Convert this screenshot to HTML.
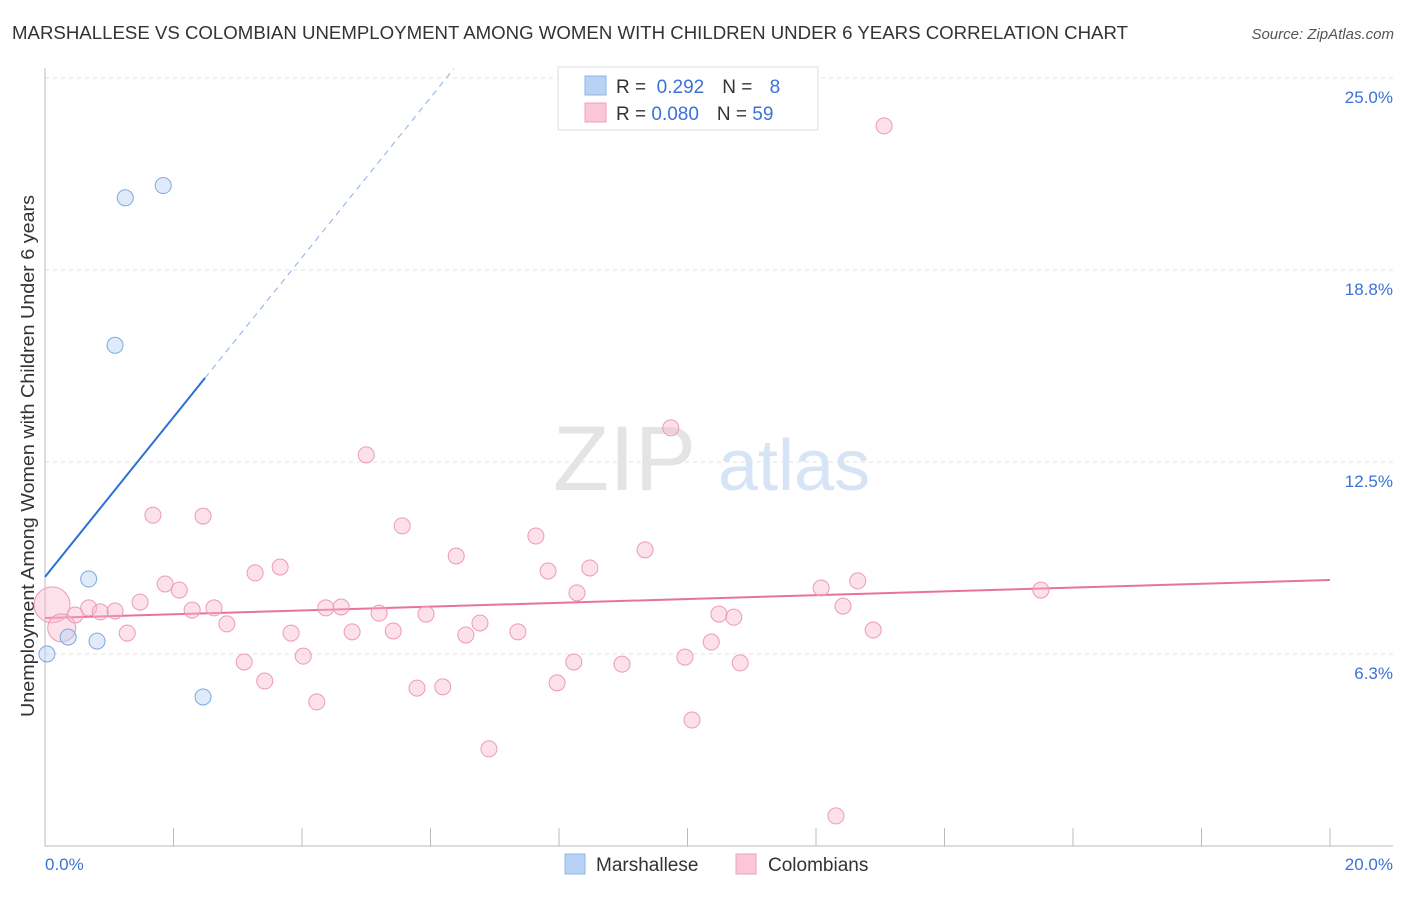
<!DOCTYPE html>
<html><head><meta charset="utf-8"><style>
body{margin:0;background:#fff;font-family:"Liberation Sans",sans-serif;}
svg text{font-family:"Liberation Sans",sans-serif;}
</style></head><body>
<svg width="1406" height="892" viewBox="0 0 1406 892" xmlns="http://www.w3.org/2000/svg">
<text x="12" y="39" font-size="18" fill="#333" textLength="1116" lengthAdjust="spacingAndGlyphs">MARSHALLESE VS COLOMBIAN UNEMPLOYMENT AMONG WOMEN WITH CHILDREN UNDER 6 YEARS CORRELATION CHART</text>
<text x="1394" y="39" font-size="15" fill="#555" font-style="italic" text-anchor="end">Source: ZipAtlas.com</text>
<g id="grid"></g>
<g><text x="553" y="490" font-size="92" fill="#e4e4e4" font-family="Liberation Serif">ZIP</text><text x="718" y="490" font-size="72" fill="#d6e4f5">atlas</text></g>
<line x1="45" y1="68" x2="45" y2="846" stroke="#bbb"/>
<line x1="45" y1="846" x2="1393" y2="846" stroke="#bbb"/>
<g id="xticks"></g>
<text x="45" y="870" font-size="17" fill="#3a72d8">0.0%</text>
<text x="1393" y="870" font-size="17" fill="#3a72d8" text-anchor="end">20.0%</text>
<text transform="translate(34,717) rotate(-90)" font-size="18" fill="#333" textLength="522" lengthAdjust="spacingAndGlyphs">Unemployment Among Women with Children Under 6 years</text>
<g id="trend"></g>
<g id="pts"></g>
<g>
<rect x="558" y="67" width="260" height="63" fill="#fff" stroke="#ddd"/>
<rect x="585" y="76" width="21" height="19" fill="#b8d2f5" stroke="#8fb4e8"/>
<rect x="585" y="103" width="21" height="19" fill="#fbc6d6" stroke="#f0a0b8"/>
<text x="616" y="93" font-size="19" fill="#333">R = <tspan fill="#3a72d8">&#160;0.292</tspan><tspan dx="18">N = </tspan><tspan fill="#3a72d8" dx="12">8</tspan></text>
<text x="616" y="120" font-size="19" fill="#333">R = <tspan fill="#3a72d8">0.080</tspan><tspan dx="18">N = </tspan><tspan fill="#3a72d8">59</tspan></text>
</g>
<g>
<rect x="565" y="854" width="20" height="20" fill="#b8d2f5" stroke="#8fb4e8"/>
<text x="596" y="871" font-size="19" fill="#333">Marshallese</text>
<rect x="736" y="854" width="20" height="20" fill="#fbc6d6" stroke="#f0a0b8"/>
<text x="768" y="871" font-size="19" fill="#333">Colombians</text>
</g>
</svg>
<script>
const yTicks=[25,18.75,12.5,6.25];
const yTickLabels=["25.0%","18.8%","12.5%","6.3%"];
const xTickVals=[0,2,4,6,8,10,12,14,16,18,20];
const marX=[0.03,0.36,0.81,0.68,1.09,1.25,1.84,2.46];
const marY=[6.25,6.8,6.67,8.69,16.3,21.1,21.5,4.85];
const colX=[0.11,0.26,0.47,0.68,0.86,1.09,1.28,1.48,1.68,1.87,2.09,2.29,2.46,2.63,2.83,3.10,3.27,3.42,3.66,3.83,4.02,4.23,4.37,4.61,4.78,5.00,5.20,5.42,5.56,5.79,5.93,6.19,6.40,6.55,6.77,6.91,7.36,7.64,7.83,7.97,8.23,8.28,8.48,8.98,9.34,9.74,9.96,10.07,10.37,10.49,10.72,10.82,12.08,12.31,12.42,12.65,12.89,13.06,15.50];
const colY=[7.85,7.10,7.52,7.75,7.62,7.65,6.93,7.94,10.77,8.53,8.33,7.68,10.74,7.75,7.23,5.99,8.89,5.37,9.08,6.93,6.18,4.69,7.75,7.78,6.97,12.73,7.58,7.00,10.42,5.14,7.55,5.18,9.44,6.87,7.26,3.16,6.97,10.09,8.95,5.31,5.99,8.24,9.05,5.92,9.64,13.61,6.15,4.10,6.64,7.55,7.45,5.96,8.40,0.98,7.81,8.63,7.03,23.44,8.33];
const marTrend=[8.76,2.6];
const colTrend=[7.42,0.062];
const X=v=>45+v*64.25, Y=v=>846-v*30.72;
const NS="http://www.w3.org/2000/svg";
function mk(t,a,p){const e=document.createElementNS(NS,t);for(const k in a)e.setAttribute(k,a[k]);p.appendChild(e);return e;}
const grid=document.getElementById('grid');
yTicks.forEach((v,i)=>{
 const l=mk('line',{x1:45,x2:1393,y1:Y(v),y2:Y(v),stroke:'#e2e2e2','stroke-dasharray':'4,4'},grid);
 
 
 const t=mk('text',{x:1393,y:Y(v)+25,'font-size':17,fill:'#3a72d8','text-anchor':'end'},grid);
 t.textContent=yTickLabels[i];
 
 
});
const xt=document.getElementById('xticks');
xTickVals.forEach(v=>{
 const l=mk('line',{x1:X(v),x2:X(v),y1:828,y2:846,stroke:'#bbb'},xt);
 
 
});
const tr=document.getElementById('trend');
const mEnd=2.49, mTop=(25.3-marTrend[0])/marTrend[1];
let l1=mk('line',{x1:X(0),y1:Y(marTrend[0]),x2:X(mEnd),y2:Y(marTrend[0]+marTrend[1]*mEnd),stroke:'#2a6fd6','stroke-width':2},tr);


let l2=mk('line',{x1:X(mEnd),y1:Y(marTrend[0]+marTrend[1]*mEnd),x2:X(mTop),y2:Y(25.3),stroke:'#9bbbe8','stroke-width':1.2,'stroke-dasharray':'6,5'},tr);


let l3=mk('line',{x1:X(0),y1:Y(colTrend[0]),x2:X(20),y2:Y(colTrend[0]+colTrend[1]*20),stroke:'#e8739a','stroke-width':2},tr);


const pts=document.getElementById('pts');
colX.forEach((x,i)=>{
 const r=i==0?18:(i==1?14:8);
 const c=mk('circle',{cx:X(x),cy:Y(colY[i]),r:r,fill:'rgba(248,180,202,0.4)',stroke:'#ee9ab5','stroke-width':1},pts);
 
 
});
marX.forEach((x,i)=>{
 const c=mk('circle',{cx:X(x),cy:Y(marY[i]),r:8,fill:'rgba(184,210,245,0.45)',stroke:'#7fa8e0','stroke-width':1},pts);
 
 
});
</script>
</body></html>
